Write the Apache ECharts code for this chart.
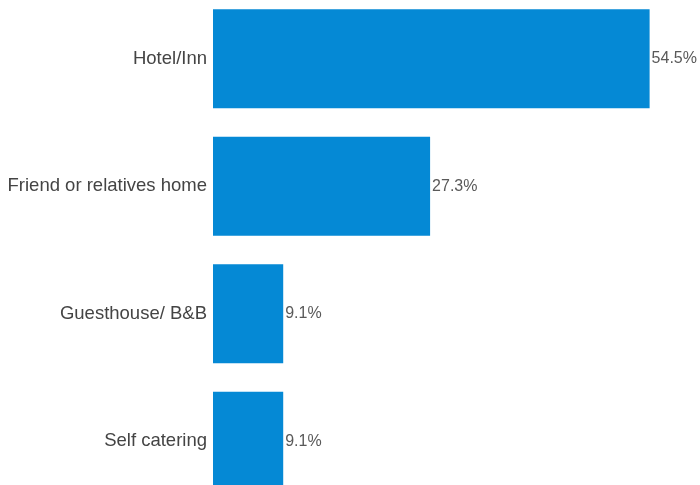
<!DOCTYPE html>
<html>
<head>
<meta charset="utf-8">
<script src="https://cdn.jsdelivr.net/npm/echarts@6/dist/echarts.min.js"></script>
<style>
  html, body { margin: 0; padding: 0; background: #fff; }
  #chart { width: 700px; height: 485px; }
</style>
</head>
<body>
<div id="chart"></div>
<script>
// Accommodation type shares (percent of respondents)
const categories = ['Hotel/Inn', 'Friend or relatives home', 'Guesthouse/ B&B', 'Self catering'];
const shares = [54.5, 27.3, 9.1, 9.1];

const chart = echarts.init(document.getElementById('chart'), null, { renderer: 'canvas' });

chart.setOption({
  animation: false,
  grid: {
    left: 213, right: 6, top: -5, bottom: -20,
    containLabel: false,
    outerBoundsMode: 'none'
  },
  xAxis: {
    type: 'value',
    min: 0.4,
    max: 60,
    show: false
  },
  yAxis: {
    type: 'category',
    data: categories,
    inverse: true,
    axisLine: { show: false },
    axisTick: { show: false },
    axisLabel: {
      margin: 6,
      fontFamily: 'Liberation Sans, Arial, sans-serif',
      fontSize: 18.5,
      color: '#444444'
    }
  },
  series: [{
    type: 'bar',
    data: shares,
    barWidth: 99,
    itemStyle: { color: '#0589D5' },
    label: {
      show: true,
      position: 'right',
      distance: 2,
      formatter: p => p.value.toFixed(1) + '%',
      fontFamily: 'Liberation Sans, Arial, sans-serif',
      fontSize: 16,
      color: '#595959'
    }
  }]
});
</script>
</body>
</html>
